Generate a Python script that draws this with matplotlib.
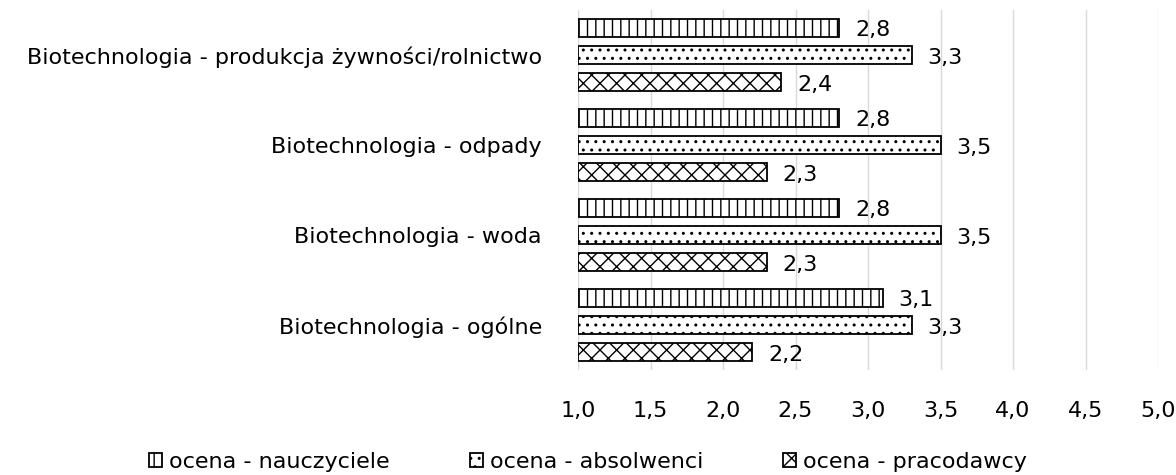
import numpy as np
import matplotlib.pyplot as plt
from matplotlib.ticker import FuncFormatter

categories = [
    "Biotechnologia - ogólne",
    "Biotechnologia - woda",
    "Biotechnologia - odpady",
    "Biotechnologia - produkcja żywności/rolnictwo",
]
series_names = ["ocena - nauczyciele", "ocena - absolwenci", "ocena - pracodawcy"]
nauczyciele = [3.1, 2.8, 2.8, 2.8]
absolwenci = [3.3, 3.5, 3.5, 3.3]
pracodawcy = [2.2, 2.3, 2.3, 2.4]
xticks = [1.0, 1.5, 2.0, 2.5, 3.0, 3.5, 4.0, 4.5, 5.0]

plt.rcParams["hatch.linewidth"] = 1.0
plt.rcParams["font.family"] = ["DejaVu Sans"]

fig = plt.figure(figsize=(11.76, 4.75), dpi=100)
ax = fig.add_axes([0.4915, 0.221, 0.4932, 0.758])

y = np.arange(len(categories))
pitch = 0.305
height = 0.2
hatches = ["||", "..", "xx"]
for i, (vals, name, h) in enumerate(zip([nauczyciele, absolwenci, pracodawcy], series_names, hatches)):
    pos = y + (1 - i) * pitch
    ax.barh(pos, np.array(vals) - 1.0, left=1.0, height=height,
            color="white", edgecolor="black", hatch=h, linewidth=1.3, label=name)
    for p, v in zip(pos, vals):
        ax.text(v + 0.11, p - 0.03, f"{v:.1f}".replace(".", ","), va="center", ha="left", fontsize=16)

ax.set_xlim(1.0, 5.0)
ax.set_ylim(-0.5, 3.5)
ax.set_xticks(xticks)
ax.xaxis.set_major_formatter(FuncFormatter(lambda v, _: f"{v:.1f}".replace(".", ",")))
ax.set_yticks(y)
ax.set_yticklabels(categories)
ax.tick_params(axis="both", length=0, labelsize=16)
ax.tick_params(axis="x", pad=22)
ax.tick_params(axis="y", pad=26)
ax.grid(axis="x", color="#d9d9d9", linewidth=1)
ax.set_axisbelow(True)
for s in ax.spines.values():
    s.set_visible(False)

fig.legend(loc="center", bbox_to_anchor=(0.5, 0.028), ncol=3, frameon=False, fontsize=16,
           handlelength=0.6, handleheight=0.6, handletextpad=0.3, columnspacing=3.6)

fig.savefig("out.png", dpi=100)
